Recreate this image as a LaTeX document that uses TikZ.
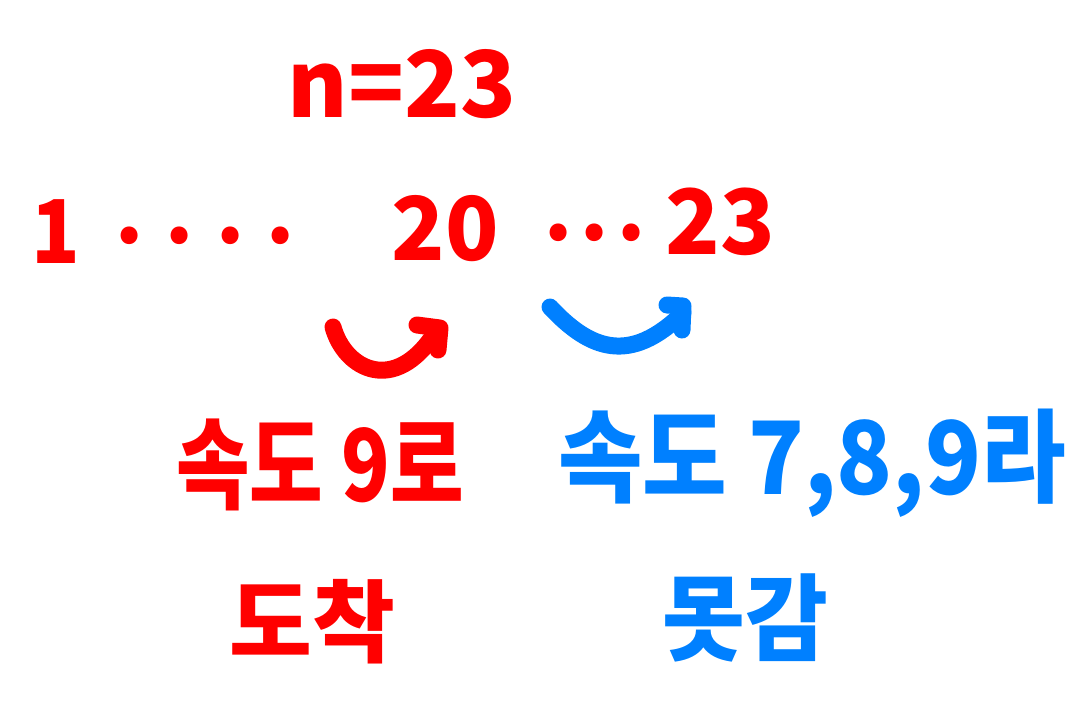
\documentclass[tikz,border=0pt]{standalone}
\usepackage{fontspec}
\newfontfamily\kr{Noto Sans CJK KR}
\definecolor{hred}{HTML}{FF0000}
\definecolor{hblue}{HTML}{0080FF}
\tikzset{
  redtxt/.style={text=hred, font=\kr\bfseries, inner sep=0pt, anchor=center},
  bluetxt/.style={text=hblue, font=\kr\bfseries, inner sep=0pt, anchor=center},
  redpen/.style={draw=hred, line width=17pt, line cap=round, line join=round},
  bluepen/.style={draw=hblue, line width=17pt, line cap=round, line join=round}
}
\begin{document}
\begin{tikzpicture}[x=1pt,y=-1pt]
\useasboundingbox (0,0) rectangle (1091,702);
% top label
\node[redtxt, font=\kr\bfseries\fontsize{92}{92}\selectfont] (n) at (402,84) {n=23};
% sequence
\node[redtxt, font=\kr\bfseries\fontsize{80}{80}\selectfont, yscale=1.1] (one) at (56,232) {1};
\node[redtxt, font=\kr\bfseries\fontsize{80}{80}\selectfont] (dotsA) at (205,236) {.\hspace{22pt}.\hspace{22pt}.\hspace{22pt}.};
\node[redtxt, font=\kr\bfseries\fontsize{88}{88}\selectfont] (twenty) at (445,229) {20};
\node[redtxt, font=\kr\bfseries\fontsize{80}{80}\selectfont] (dotsB) at (595,233) {.\hspace{8pt}.\hspace{8pt}.};
\node[redtxt, font=\kr\bfseries\fontsize{90}{90}\selectfont] (tt) at (720,222) {23};
% arcs
\coordinate (ra) at (333,327);
\coordinate (rb) at (435,333);
\draw[redpen] (ra) .. controls (345,370) and (395,395) .. (rb);
\draw[redpen] (417,325) -- (440,328) -- (438,350);
\coordinate (ba) at (550,307);
\coordinate (bb) at (683,313);
\draw[bluepen] (ba) .. controls (590,350) and (630,365) .. (bb);
\draw[bluepen] (667,305) -- (683,306) -- (682,330);
% labels
\node[redtxt, font=\kr\bfseries\fontsize{80}{80}\selectfont, yscale=1.25] (speedA) at (320,465) {속도 9로};
\node[bluetxt, font=\kr\bfseries\fontsize{92}{92}\selectfont, yscale=1.1] (speedB) at (812,463) {속도 7,8,9라};
\node[redtxt, font=\kr\bfseries\fontsize{90}{90}\selectfont] (arrive) at (312,622) {도착};
\node[bluetxt, font=\kr\bfseries\fontsize{90}{90}\selectfont, yscale=1.05] (cant) at (745,618) {못감};
\end{tikzpicture}
\end{document}
